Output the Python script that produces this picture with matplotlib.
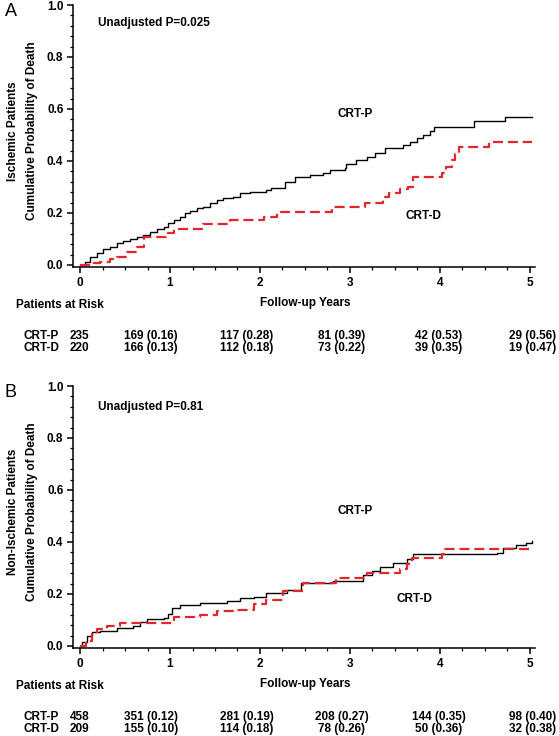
import matplotlib
matplotlib.use("Agg")
import matplotlib.pyplot as plt
from matplotlib.ticker import MultipleLocator

plt.rcParams['font.family'] = ['Liberation Sans', 'DejaVu Sans']

# ---- data (step 'post': time of jump, new value) ----
a_p_t = [0, 0.056, 0.111, 0.185, 0.26, 0.33, 0.41, 0.48, 0.56, 0.63, 0.70, 0.78, 0.85, 0.93,
         0.98, 1.04, 1.11, 1.17, 1.22, 1.30, 1.37, 1.44, 1.52, 1.59, 1.70, 1.78, 1.89, 2.07,
         2.12, 2.28, 2.39, 2.56, 2.70, 2.78, 2.94, 2.96, 3.07, 3.19, 3.28, 3.39, 3.59, 3.67,
         3.74, 3.81, 3.89, 3.93, 4.38, 4.72, 5.02]
a_p_v = [0, 0.013, 0.032, 0.045, 0.06, 0.07, 0.083, 0.093, 0.10, 0.109, 0.115, 0.128, 0.137, 0.144,
         0.16, 0.173, 0.186, 0.199, 0.209, 0.218, 0.224, 0.237, 0.25, 0.256, 0.263, 0.276, 0.282, 0.288,
         0.295, 0.32, 0.34, 0.346, 0.353, 0.365, 0.372, 0.39, 0.404, 0.417, 0.43, 0.449, 0.46, 0.474,
         0.487, 0.50, 0.517, 0.53, 0.555, 0.568, 0.568]

a_d_t = [0, 0.11, 0.22, 0.33, 0.41, 0.52, 0.63, 0.71, 0.96, 1.04, 1.37, 1.67, 2.04, 2.19, 2.80,
         3.17, 3.37, 3.43, 3.56, 3.65, 3.70, 4.02, 4.07, 4.13, 4.17, 4.21, 4.54, 5.02]
a_d_v = [0, 0.006, 0.013, 0.022, 0.032, 0.049, 0.07, 0.106, 0.122, 0.137, 0.158, 0.173, 0.186, 0.205, 0.222,
         0.237, 0.263, 0.278, 0.291, 0.301, 0.337, 0.353, 0.378, 0.404, 0.427, 0.455, 0.474, 0.474]

b_p_t = [0, 0.02, 0.074, 0.13, 0.22, 0.41, 0.59, 0.67, 0.74, 0.93, 0.98, 1.02, 1.11, 1.33, 1.63,
         1.78, 1.93, 2.07, 2.30, 2.46, 2.81, 3.15, 3.24, 3.33, 3.48, 3.63, 3.70, 4.63, 4.70, 4.85,
         4.96, 5.02]
b_p_v = [0, 0.014, 0.04, 0.052, 0.059, 0.068, 0.078, 0.091, 0.103, 0.109, 0.123, 0.144, 0.157, 0.167, 0.174,
         0.183, 0.19, 0.204, 0.216, 0.241, 0.25, 0.272, 0.289, 0.305, 0.32, 0.333, 0.352, 0.359, 0.378, 0.387,
         0.395, 0.403]

b_d_t = [0, 0.07, 0.13, 0.19, 0.30, 0.44, 1.04, 1.33, 1.52, 1.70, 1.93, 2.07, 2.26, 2.48, 2.85,
         3.19, 3.56, 3.63, 3.69, 4.02, 4.06, 5.02]
b_d_v = [0, 0.02, 0.046, 0.065, 0.078, 0.088, 0.11, 0.119, 0.135, 0.14, 0.161, 0.177, 0.212, 0.244, 0.263,
         0.28, 0.295, 0.314, 0.34, 0.352, 0.374, 0.374]

groups = ['CRT-P', 'CRT-D']
a_n0 = [235, 220]
a_risk = [['169 (0.16)', '117 (0.28)', '81 (0.39)', '42 (0.53)', '29 (0.56)'],
          ['166 (0.13)', '112 (0.18)', '73 (0.22)', '39 (0.35)', '19 (0.47)']]
b_n0 = [458, 209]
b_risk = [['351 (0.12)', '281 (0.19)', '208 (0.27)', '144 (0.35)', '98 (0.40)'],
          ['155 (0.10)', '114 (0.18)', '78 (0.26)', '50 (0.36)', '32 (0.38)']]

W, H = 559, 736
fig = plt.figure(figsize=(W / 100, H / 100), dpi=100)


def fx(px):
    return px / W


def fy(py):
    return 1 - py / H


red = '#e3262b'
fs = 8.5
col_centers = [151, 247, 342, 439, 533]


def panel(top, bot, letter, pval, p_t, p_v, d_t, d_v, ylab, n0, risk, lab_p, lab_d):
    ax = fig.add_axes([fx(73), fy(bot), fx(535) - fx(73), fy(top) - fy(bot)])
    ax.step(p_t, p_v, where='post', color='black', lw=1.0)
    ax.step(d_t, d_v, where='post', color=red, lw=1.6, dashes=(4.5, 2.2))
    ax.set_xlim(-0.078, 5.056)
    ax.set_ylim(-0.008, 1.0)
    for s in ['top', 'right']:
        ax.spines[s].set_visible(False)
    for s in ['left', 'bottom']:
        ax.spines[s].set_linewidth(1.1)
    ax.xaxis.set_major_locator(MultipleLocator(1))
    ax.xaxis.set_minor_locator(MultipleLocator(0.25))
    ax.yaxis.set_major_locator(MultipleLocator(0.2))
    ax.yaxis.set_minor_locator(MultipleLocator(0.04))
    ax.tick_params(which='major', length=4, width=1.1, labelsize=fs, pad=3)
    ax.tick_params(which='minor', length=2.2, width=0.9)
    ax.set_yticks([0, 0.2, 0.4, 0.6, 0.8, 1.0])
    ax.set_yticklabels(['0.0', '0.2', '0.4', '0.6', '0.8', '1.0'], fontweight='bold')
    ax.set_xticks([0, 1, 2, 3, 4, 5])
    ax.set_xticklabels(['0', '1', '2', '3', '4', '5'], fontweight='bold')

    ax.text(0.2, pval[1], pval[0], fontsize=fs, fontweight='bold', va='center')
    ax.text(lab_p[0], lab_p[1], 'CRT-P', fontsize=fs, fontweight='bold', ha='center', va='center')
    ax.text(lab_d[0], lab_d[1], 'CRT-D', fontsize=fs, fontweight='bold', ha='center', va='center')

    mid = (top + bot) / 2 - 5
    fig.text(fx(5), fy(top + 7), letter, fontsize=13, ha='left', va='center')
    fig.text(fx(13), fy(mid), ylab, rotation=90, fontsize=fs, fontweight='bold',
             ha='center', va='center')
    fig.text(fx(32), fy(mid), 'Cumulative Probability of Death', rotation=90, fontsize=fs,
             fontweight='bold', ha='center', va='center')

    fig.text(fx(16), fy(bot + 38), 'Patients at Risk', fontsize=fs, fontweight='bold', va='center')
    fig.text(fx(305), fy(bot + 36), 'Follow-up Years', fontsize=fs, fontweight='bold',
             ha='center', va='center')
    for i, g in enumerate(groups):
        yy = fy(bot + 69 + 12 * i)
        fig.text(fx(59), yy, g, fontsize=fs, fontweight='bold', ha='right', va='center')
        fig.text(fx(70), yy, str(n0[i]), fontsize=fs, fontweight='bold', ha='left', va='center')
        for c, s in zip(col_centers, risk[i]):
            fig.text(fx(c), yy, s, fontsize=fs, fontweight='bold', ha='center', va='center')
    return ax


panel(5, 267, 'A', ('Unadjusted P=0.025', 0.93), a_p_t, a_p_v, a_d_t, a_d_v,
      'Ischemic Patients', a_n0, a_risk, (3.06, 0.58), (3.82, 0.19))
panel(386, 648, 'B', ('Unadjusted P=0.81', 0.92), b_p_t, b_p_v, b_d_t, b_d_v,
      'Non-Ischemic Patients', b_n0, b_risk, (3.06, 0.52), (3.72, 0.18))

fig.savefig('out.png', dpi=100)
